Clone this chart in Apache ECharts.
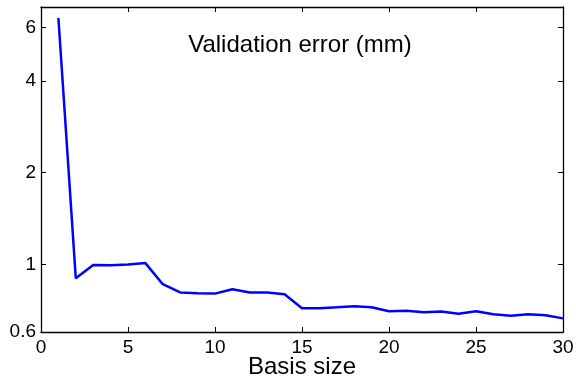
<!DOCTYPE html>
<html><head><meta charset="utf-8">
<script src="https://cdn.jsdelivr.net/npm/echarts@6/dist/echarts.min.js"></script>
<style>html,body{margin:0;padding:0;background:#fff}#c{width:576px;height:381px}</style>
</head><body><div id="c"></div>
<script>
const basisSize = [1,2,3,4,5,6,7,8,9,10,11,12,13,14,15,16,17,18,19,20,21,22,23,24,25,26,27,28,29,30];
const validationError = [6.44,0.90,0.995,0.993,1.0,1.01,0.861,0.809,0.804,0.802,0.829,0.809,0.809,0.798,0.718,0.718,0.723,0.729,0.723,0.702,0.705,0.696,0.700,0.689,0.702,0.686,0.679,0.686,0.681,0.665];
const xTicks = [0,5,10,15,20,25,30];
const yTicks = [0.6,1,2,4,6];
const titleText = 'Validation error (mm)';
const xName = 'Basis size';

const font = 'Liberation Sans, Arial, sans-serif';
const chart = echarts.init(document.getElementById('c'), null, {renderer:'canvas'});
const axisLineStyle = {color:'#000', width:1.3};
chart.setOption({
  animation:false,
  backgroundColor:'#fff',
  title:{text:titleText, left:295, top:28, textAlign:'center',
    textStyle:{fontFamily:font, fontSize:24, fontWeight:'normal', color:'#000'}},
  grid:{left:41, right:13, top:7, bottom:49, containLabel:false, outerBoundsMode:'none'},
  xAxis:[{
    type:'value', min:0, max:30, interval:5,
    name:xName, nameLocation:'middle', nameGap:23, nameMoveOverlap:false,
    nameTextStyle:{fontFamily:font, fontSize:24, color:'#000'},
    axisLine:{show:true, lineStyle:axisLineStyle},
    axisTick:{show:true, inside:true, length:5, lineStyle:{color:'#000'}},
    axisLabel:{fontFamily:font, fontSize:19, color:'#000', margin:6},
    splitLine:{show:false}
  },{
    type:'value', position:'top', min:0, max:30, interval:5,
    axisLine:{show:true, onZero:false, lineStyle:axisLineStyle},
    axisTick:{show:true, inside:true, length:5, lineStyle:{color:'#000'}},
    axisLabel:{show:false}, splitLine:{show:false}
  }],
  yAxis:[{
    type:'log', min:0.6, max:7, logBase:10,
    axisLine:{show:true, lineStyle:axisLineStyle},
    axisTick:{show:true, inside:true, length:5, lineStyle:{color:'#000'}, customValues:yTicks},
    axisLabel:{fontFamily:font, fontSize:19, color:'#000', margin:5, customValues:yTicks,
      formatter:v=>String(+v.toFixed(2))},
    splitLine:{show:false}
  },{
    type:'log', min:0.6, max:7, logBase:10, position:'right',
    axisLine:{show:true, onZero:false, lineStyle:axisLineStyle},
    axisTick:{show:true, inside:true, length:5, lineStyle:{color:'#000'}, customValues:yTicks},
    axisLabel:{show:false, customValues:yTicks}, splitLine:{show:false}
  }],
  series:[{
    type:'line', xAxisIndex:0, yAxisIndex:0,
    data: basisSize.map((x,i)=>[x, validationError[i]]),
    showSymbol:false, symbol:'none',
    lineStyle:{color:'#0000ff', width:2.5}
  }]
});
</script></body></html>
